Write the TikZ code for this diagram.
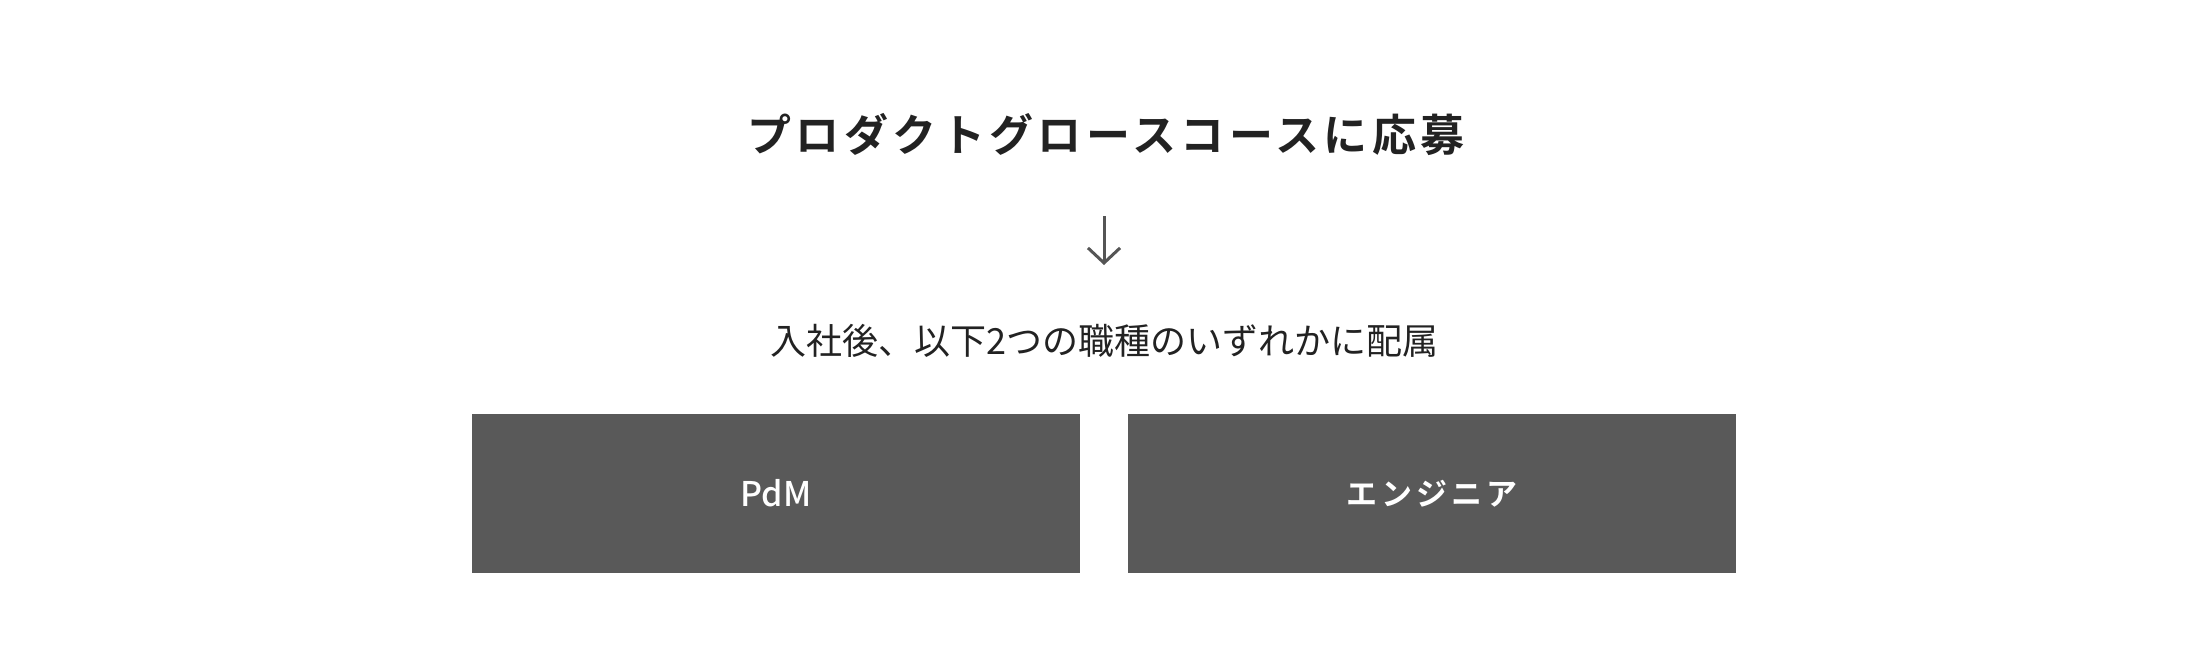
\documentclass[tikz,border=0pt]{standalone}
\usepackage{fontspec}
\setmainfont{Noto Sans CJK JP}
\newfontfamily\titlefont[LetterSpace=10]{Noto Sans CJK JP Bold}
\newfontfamily\subfont[LetterSpace=0]{Noto Sans CJK JP}
\newfontfamily\boxfont[LetterSpace=13]{Noto Sans CJK JP Bold}
\newfontfamily\latinbox{Noto Sans CJK JP Medium}
\usetikzlibrary{arrows.meta}
\definecolor{ink}{HTML}{222222}
\definecolor{boxgray}{HTML}{595959}
\definecolor{arrowgray}{HTML}{555555}
\begin{document}
\begin{tikzpicture}[x=1pt,y=1pt,
  titletext/.style={text=ink,inner sep=0pt,font=\titlefont\fontsize{44}{50}\selectfont},
  subtext/.style={text=ink,inner sep=0pt,font=\subfont\fontsize{36}{42}\selectfont},
  rolebox/.style={fill=boxgray,text=white,minimum width=608pt,minimum height=159pt,inner sep=0pt,font=\boxfont\fontsize{31}{36}\selectfont},
  flow/.style={draw=arrowgray,line width=3pt,-{Straight Barb[length=15pt,width=32pt,line width=3pt]}}]
\useasboundingbox (0,0) rectangle (2208,-670);
\fill[white] (0,0) rectangle (2208,-670);
\node[titletext] (title) at (1106,-134) {プロダクトグロースコースに応募};
\node[subtext] (sub) at (1104,-341) {入社後、以下2つの職種のいずれかに配属};
\coordinate (a1) at (1104,-216);
\coordinate (a2) at (1104,-265);
\draw[flow] (a1) -- (a2);
\node[rolebox,font=\latinbox\fontsize{34}{40}\selectfont] (pdm) at (776,-493.5) {PdM};
\node[rolebox] (eng) at (1432,-493.5) {エンジニア};
\end{tikzpicture}
\end{document}
